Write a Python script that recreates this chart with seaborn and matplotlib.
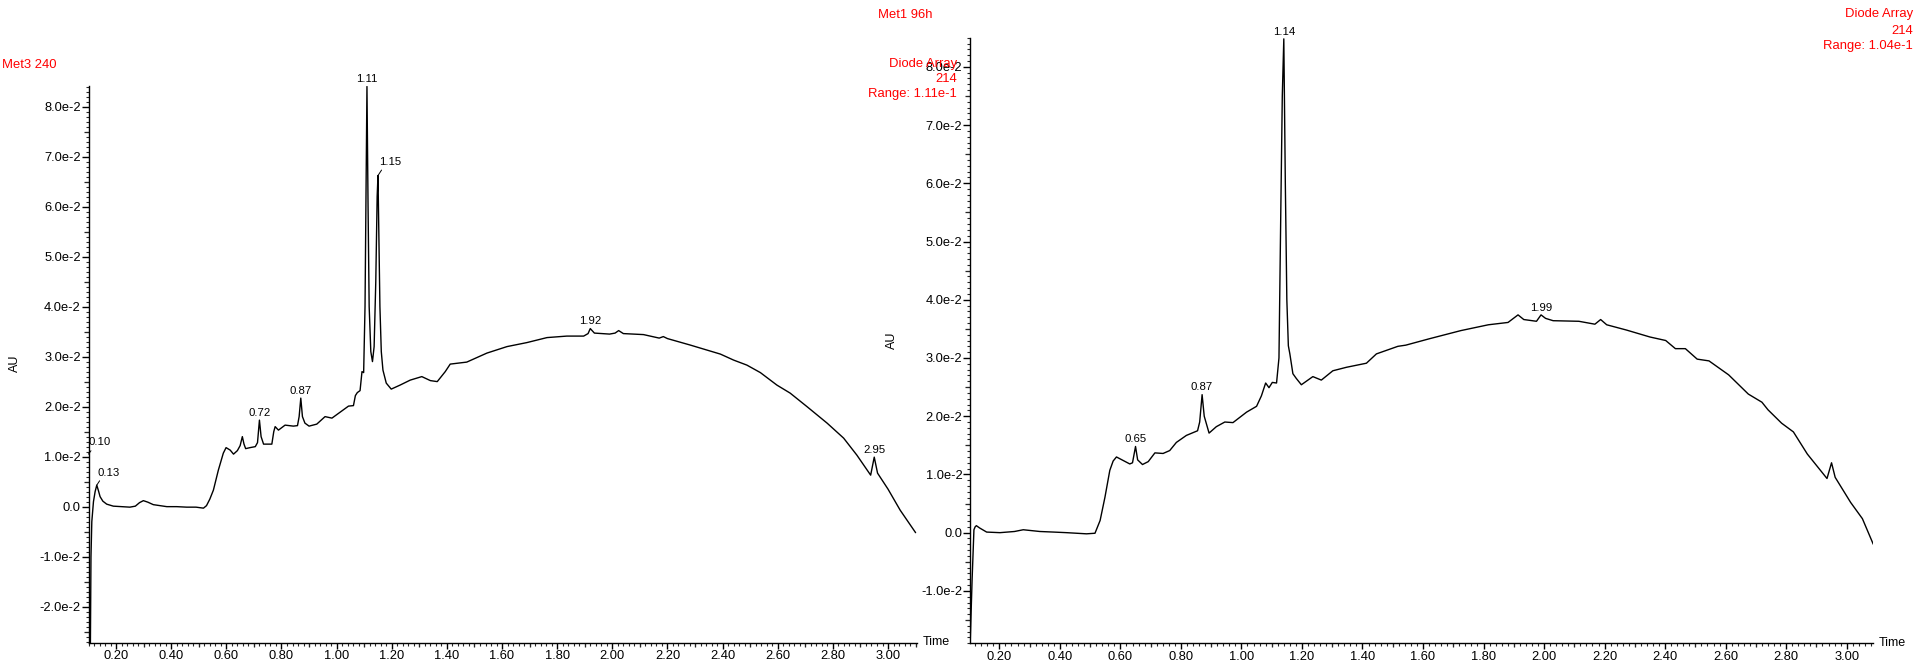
import numpy as np
import matplotlib
matplotlib.use("Agg")
import matplotlib.pyplot as plt
from matplotlib.ticker import MultipleLocator, FuncFormatter, FixedLocator
import seaborn as sns

# ---- Met3 240 trace (time in min, absorbance in AU) ----
left_time = [
    0.100, 0.102, 0.106, 0.109, 0.112, 0.118, 0.124, 0.130, 0.136, 0.142,
    0.152, 0.166, 0.190, 0.220, 0.250, 0.270, 0.285, 0.299, 0.315, 0.335,
    0.360, 0.384, 0.420, 0.456, 0.490, 0.517, 0.528, 0.540, 0.553, 0.571,
    0.589, 0.599, 0.614, 0.626, 0.640, 0.650, 0.658, 0.664, 0.670, 0.686,
    0.705, 0.713, 0.720, 0.726, 0.735, 0.765, 0.772, 0.777, 0.789, 0.813,
    0.843, 0.858, 0.864, 0.870, 0.876, 0.885, 0.900, 0.928, 0.958, 0.983,
    1.013, 1.043, 1.061, 1.068, 1.075, 1.085, 1.092, 1.098, 1.103, 1.107,
    1.110, 1.114, 1.118, 1.124, 1.130, 1.136, 1.142, 1.147, 1.150, 1.153,
    1.157, 1.162, 1.168, 1.180, 1.198, 1.230, 1.267, 1.309, 1.340, 1.365,
    1.394, 1.412, 1.472, 1.545, 1.618, 1.690, 1.763, 1.835, 1.896, 1.912,
    1.920, 1.935, 1.990, 2.010, 2.023, 2.040, 2.113, 2.170, 2.185, 2.200,
    2.283, 2.343, 2.392, 2.440, 2.488, 2.537, 2.597, 2.645, 2.706, 2.779,
    2.839, 2.887, 2.937, 2.950, 2.962, 3.000, 3.044, 3.100,
]
left_au = [
    0.0105, -0.0350, -0.0350, -0.0100, -0.0030, 0.0010, 0.0030, 0.0043, 0.0032, 0.0020,
    0.0011, 0.0005, 0.0001, 0.0000, -0.0001, 0.0001, 0.0008, 0.0012, 0.0009, 0.0004,
    0.0002, 0.0000, 0.0000, -0.0001, -0.0001, -0.0003, 0.0002, 0.0015, 0.0033, 0.0073,
    0.0107, 0.0118, 0.0113, 0.0105, 0.0112, 0.0122, 0.0140, 0.0125, 0.0116, 0.0118,
    0.0120, 0.0128, 0.0173, 0.0140, 0.0125, 0.0125, 0.0150, 0.0160, 0.0153, 0.0163,
    0.0161, 0.0162, 0.0180, 0.0217, 0.0180, 0.0167, 0.0161, 0.0165, 0.0180, 0.0177,
    0.0189, 0.0201, 0.0202, 0.0222, 0.0228, 0.0232, 0.0270, 0.0268, 0.0400, 0.0650,
    0.0840, 0.0600, 0.0400, 0.0310, 0.0290, 0.0320, 0.0450, 0.0620, 0.0662, 0.0550,
    0.0400, 0.0310, 0.0273, 0.0247, 0.0235, 0.0243, 0.0253, 0.0260, 0.0252, 0.0250,
    0.0270, 0.0285, 0.0289, 0.0307, 0.0320, 0.0328, 0.0338, 0.0341, 0.0341, 0.0346,
    0.0356, 0.0347, 0.0345, 0.0347, 0.0352, 0.0346, 0.0344, 0.0337, 0.0340, 0.0336,
    0.0323, 0.0313, 0.0305, 0.0293, 0.0283, 0.0268, 0.0243, 0.0227, 0.0200, 0.0167,
    0.0137, 0.0103, 0.0063, 0.0099, 0.0067, 0.0035, -0.0007, -0.0052,
]
left_peak_labels = ["0.10", "0.13", "0.72", "0.87", "1.11", "1.15", "1.92", "2.95"]

# ---- Met1 96h trace ----
right_time = [
    0.103, 0.110, 0.116, 0.120, 0.124, 0.135, 0.158, 0.202, 0.250, 0.279,
    0.334, 0.380, 0.422, 0.488, 0.516, 0.533, 0.549, 0.565, 0.576, 0.587,
    0.609, 0.631, 0.640, 0.650, 0.657, 0.673, 0.692, 0.714, 0.741, 0.763,
    0.785, 0.818, 0.855, 0.862, 0.870, 0.877, 0.893, 0.917, 0.945, 0.972,
    1.017, 1.050, 1.066, 1.080, 1.091, 1.102, 1.116, 1.124, 1.130, 1.135,
    1.140, 1.145, 1.150, 1.155, 1.160, 1.170, 1.181, 1.198, 1.236, 1.264,
    1.302, 1.347, 1.413, 1.446, 1.517, 1.543, 1.621, 1.725, 1.816, 1.881,
    1.914, 1.933, 1.975, 1.990, 2.005, 2.030, 2.115, 2.168, 2.187, 2.207,
    2.272, 2.350, 2.402, 2.434, 2.467, 2.506, 2.545, 2.610, 2.675, 2.720,
    2.740, 2.785, 2.824, 2.870, 2.935, 2.950, 2.962, 3.013, 3.052, 3.088,
]
right_au = [
    -0.0200, -0.0080, 0.0005, 0.0010, 0.0012, 0.0008, 0.0001, 0.0000, 0.0002, 0.0005,
    0.0002, 0.0001, 0.0000, -0.0002, -0.0001, 0.0021, 0.0061, 0.0107, 0.0123, 0.0130,
    0.0124, 0.0118, 0.0120, 0.0148, 0.0125, 0.0117, 0.0122, 0.0137, 0.0136, 0.0141,
    0.0155, 0.0167, 0.0175, 0.0190, 0.0237, 0.0200, 0.0171, 0.0182, 0.0190, 0.0189,
    0.0207, 0.0217, 0.0235, 0.0257, 0.0249, 0.0258, 0.0257, 0.0300, 0.0550, 0.0750,
    0.0848, 0.0600, 0.0400, 0.0321, 0.0307, 0.0273, 0.0265, 0.0254, 0.0268, 0.0262,
    0.0278, 0.0284, 0.0291, 0.0307, 0.0320, 0.0322, 0.0333, 0.0347, 0.0357, 0.0361,
    0.0374, 0.0366, 0.0363, 0.0374, 0.0368, 0.0364, 0.0363, 0.0358, 0.0366, 0.0357,
    0.0348, 0.0336, 0.0330, 0.0316, 0.0316, 0.0298, 0.0295, 0.0271, 0.0238, 0.0224,
    0.0211, 0.0188, 0.0173, 0.0135, 0.0093, 0.0120, 0.0095, 0.0052, 0.0024, -0.0020,
]
right_peak_labels = ["0.65", "0.87", "1.14", "1.99"]

left_yticks = [-0.02, -0.01, 0.0, 0.01, 0.02, 0.03, 0.04, 0.05, 0.06, 0.07, 0.08]
right_yticks = [-0.01, 0.0, 0.01, 0.02, 0.03, 0.04, 0.05, 0.06, 0.07, 0.08]
xtick_labels = ["0.20", "0.40", "0.60", "0.80", "1.00", "1.20", "1.40", "1.60",
                "1.80", "2.00", "2.20", "2.40", "2.60", "2.80", "3.00"]

sns.set_theme(style="white")
plt.rcParams["font.family"] = ["Liberation Sans", "DejaVu Sans"]

W, H = 1915, 664
RED = "#ff0000"
fig = plt.figure(figsize=(W / 100, H / 100), dpi=100)
fig.patch.set_facecolor("white")


def px_axes(x0, y0, x1, y1):
    return fig.add_axes([x0 / W, 1 - y1 / H, (x1 - x0) / W, (y1 - y0) / H])


def au_fmt(v, _pos=None):
    if abs(v) < 1e-9:
        return "0.0"
    return f"{v * 100:.1f}e-2"


def style_axes(ax, xlim, ylim, yticks):
    ax.set_facecolor("white")
    ax.set_xlim(*xlim)
    ax.set_ylim(*ylim)
    for side in ("top", "right"):
        ax.spines[side].set_visible(False)
    for side in ("left", "bottom"):
        ax.spines[side].set_color("black")
        ax.spines[side].set_linewidth(1.0)
    ax.xaxis.set_major_locator(FixedLocator([float(s) for s in xtick_labels]))
    ax.xaxis.set_major_formatter(FuncFormatter(lambda v, p: f"{v:.2f}"))
    ax.xaxis.set_minor_locator(MultipleLocator(0.02))
    ax.yaxis.set_major_locator(FixedLocator(yticks))
    ax.yaxis.set_major_formatter(FuncFormatter(au_fmt))
    ax.yaxis.set_minor_locator(MultipleLocator(0.001))
    ax.tick_params(axis="x", which="major", direction="out", length=4, width=1,
                   pad=1.5, labelsize=9.3, colors="black", bottom=True)
    ax.tick_params(axis="x", which="minor", direction="out", length=2, width=0.8,
                   bottom=True)
    ax.tick_params(axis="y", which="major", direction="out", length=5, width=1,
                   pad=0.5, labelsize=9.3, colors="black", left=True)
    ax.tick_params(axis="y", which="minor", direction="out", length=2, width=0.8,
                   left=True)
    # intermediate ticks (every 0.1 min / 0.005 AU)
    secx = ax.secondary_xaxis("bottom")
    secx.set_xticks(np.arange(0.3, 3.15, 0.2))
    secx.tick_params(axis="x", direction="out", length=3.2, width=0.9,
                     labelbottom=False)
    secx.spines["bottom"].set_visible(False)
    secy = ax.secondary_yaxis("left")
    secy.set_yticks(np.arange(ylim[0] - ylim[0] % 0.01 + 0.005, ylim[1], 0.01))
    secy.tick_params(axis="y", direction="out", length=3.6, width=0.9,
                     labelleft=False)
    secy.spines["left"].set_visible(False)
    ax.set_xlabel("")
    ax.set_ylabel("")
    ax.annotate("Time", xy=(1, 0), xycoords="axes fraction", xytext=(4, 0.5),
                textcoords="offset points", ha="left", va="center",
                fontsize=9, color="black")


def draw_trace(ax, t, au, labels, leader):
    sns.lineplot(x=t, y=au, ax=ax, color="black", linewidth=1.0,
                 estimator=None, sort=False)
    for lab in labels:
        pt = float(lab)
        val = float(np.interp(pt, t, au))
        if lab in leader:
            dx, dy = leader[lab]
            ax.annotate(lab, xy=(pt, val), xytext=(dx, dy),
                        textcoords="offset points", ha="center", va="center",
                        fontsize=8.2, color="black", annotation_clip=False,
                        arrowprops=dict(arrowstyle="-", color="black", lw=0.7,
                                        shrinkA=0, shrinkB=0, relpos=(0.2, 0.0)))
        else:
            ax.annotate(lab, xy=(pt, val), xytext=(0, 5.2),
                        textcoords="offset points", ha="center", va="center",
                        fontsize=8.2, color="black", annotation_clip=False)


ax1 = px_axes(88.5, 86, 916.7, 642.7)
style_axes(ax1, (0.100, 3.104), (-0.0272, 0.0841), left_yticks)
draw_trace(ax1, left_time, left_au, left_peak_labels,
           {"0.10": (8.3, 8.4), "0.13": (8.4, 9.1), "1.15": (8.9, 9.9)})

ax2 = px_axes(970, 37.7, 1873.3, 643.3)
style_axes(ax2, (0.103, 3.088), (-0.0190, 0.0850), right_yticks)
draw_trace(ax2, right_time, right_au, right_peak_labels, {})

# axis titles and header text
fig.text(15 / W, 1 - 363 / H, "AU", rotation=90, ha="center", va="center",
         fontsize=9, color="black")
fig.text(891.7 / W, 1 - 340 / H, "AU", rotation=90, ha="center", va="center",
         fontsize=9, color="black")

fig.text(2 / W, 1 - 65 / H, "Met3 240", ha="left", va="center",
         fontsize=9.4, color=RED)
fig.text(933 / W, 1 - 15 / H, "Met1 96h", ha="right", va="center",
         fontsize=9.4, color=RED)
for line, yy in zip(["Diode Array", "214", "Range: 1.11e-1"], [64, 79, 94.3]):
    fig.text(957 / W, 1 - yy / H, line, ha="right", va="center",
             fontsize=9.4, color=RED)
for line, yy in zip(["Diode Array", "214", "Range: 1.04e-1"], [14, 30.7, 45.7]):
    fig.text(1913 / W, 1 - yy / H, line, ha="right", va="center",
             fontsize=9.4, color=RED)

fig.savefig("out.png", dpi=100, facecolor="white")
